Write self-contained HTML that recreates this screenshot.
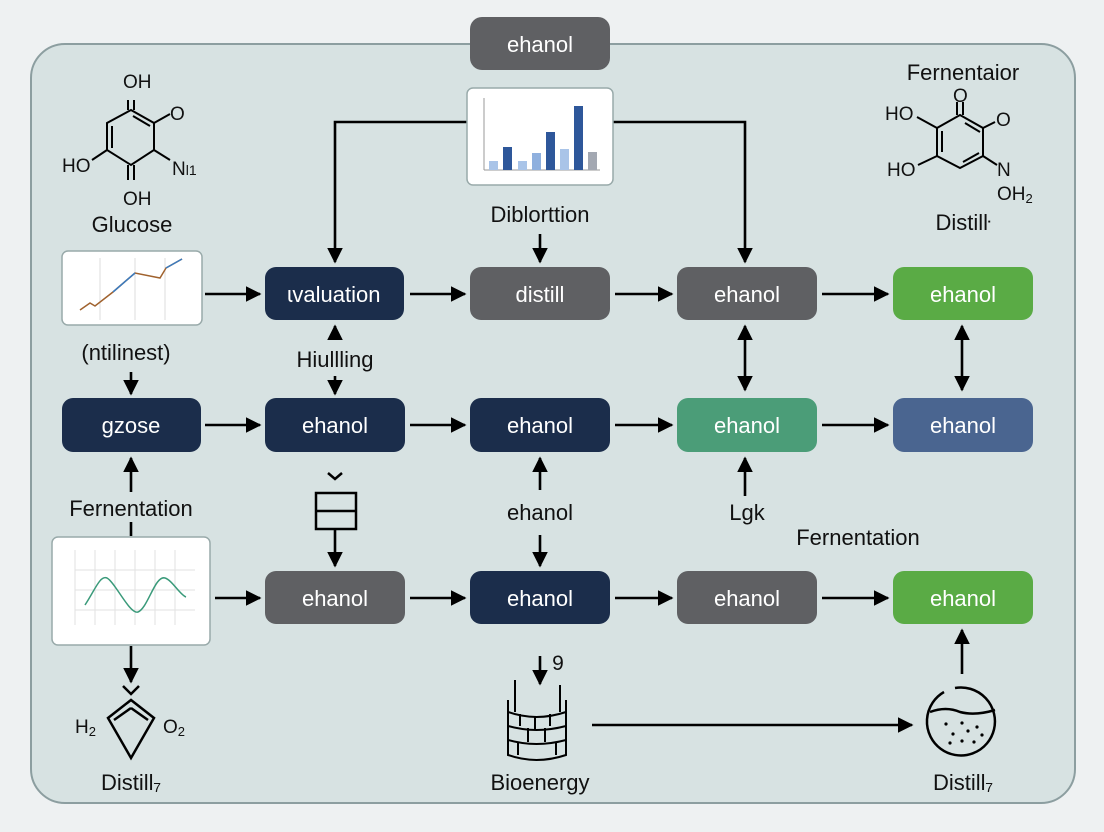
<!DOCTYPE html>
<html><head><meta charset="utf-8"><style>
html,body{margin:0;padding:0;background:#eef1f2;}
svg{display:block;font-family:"Liberation Sans",sans-serif;}
</style></head><body>
<svg width="1104" height="832" viewBox="0 0 1104 832" xmlns="http://www.w3.org/2000/svg">
<defs>
<marker id="a" viewBox="0 0 10 10" refX="9" refY="5" markerWidth="6" markerHeight="6" orient="auto-start-reverse"><path d="M0,0 L10,5 L0,10 z" fill="#000"/></marker>
</defs>
<rect x="0" y="0" width="1104" height="832" fill="#eef1f2"/>
<rect x="31" y="44" width="1044" height="759" rx="34" fill="#d7e2e2" stroke="#8c9ea0" stroke-width="2"/>
<rect x="470" y="17" width="140" height="53" rx="12" fill="#5f6063"/>
<text x="540" y="52" fill="#fff" font-size="22" text-anchor="middle">ehanol</text>

<g stroke="#000" stroke-width="2.6" fill="none">
<path d="M467 122 H335 V262" marker-end="url(#a)"/>
<path d="M613 122 H745 V262" marker-end="url(#a)"/>
<path d="M540 234 V262" marker-end="url(#a)"/>
<path d="M205 294 H260" marker-end="url(#a)"/>
<path d="M410 294 H465" marker-end="url(#a)"/>
<path d="M615 294 H672" marker-end="url(#a)"/>
<path d="M822 294 H888" marker-end="url(#a)"/>
<path d="M205 425 H260" marker-end="url(#a)"/>
<path d="M410 425 H465" marker-end="url(#a)"/>
<path d="M615 425 H672" marker-end="url(#a)"/>
<path d="M822 425 H888" marker-end="url(#a)"/>
<path d="M215 598 H260" marker-end="url(#a)"/>
<path d="M410 598 H465" marker-end="url(#a)"/>
<path d="M615 598 H672" marker-end="url(#a)"/>
<path d="M822 598 H888" marker-end="url(#a)"/>
<path d="M335 340 V326" marker-end="url(#a)"/>
<path d="M335 376 V394" marker-end="url(#a)"/>
<path d="M745 390 V326" marker-end="url(#a)" marker-start="url(#a)"/>
<path d="M962 390 V326" marker-end="url(#a)" marker-start="url(#a)"/>
<path d="M131 372 V394" marker-end="url(#a)"/>
<path d="M131 492 V458" marker-end="url(#a)"/>
<path d="M131 522 V536"/>
<path d="M131 646 V682" marker-end="url(#a)"/>
<path d="M335 530 V566" marker-end="url(#a)"/>
<path d="M540 490 V458" marker-end="url(#a)"/>
<path d="M540 535 V566" marker-end="url(#a)"/>
<path d="M745 496 V458" marker-end="url(#a)"/>
<path d="M962 674 V630" marker-end="url(#a)"/>
<path d="M540 656 V684" marker-end="url(#a)"/>
<path d="M592 725 H912" marker-end="url(#a)"/>
</g>

<g font-size="22" text-anchor="middle" fill="#fff">
<rect x="265" y="267" width="139" height="53" rx="11" fill="#1b2d4b"/><text x="334" y="302">ɩvaluation</text>
<rect x="470" y="267" width="140" height="53" rx="11" fill="#5f6063"/><text x="540" y="302">distill</text>
<rect x="677" y="267" width="140" height="53" rx="11" fill="#5f6063"/><text x="747" y="302">ehanol</text>
<rect x="893" y="267" width="140" height="53" rx="11" fill="#5aab45"/><text x="963" y="302">ehanol</text>

<rect x="62" y="398" width="139" height="54" rx="11" fill="#1b2d4b"/><text x="131" y="433">gzose</text>
<rect x="265" y="398" width="140" height="54" rx="11" fill="#1b2d4b"/><text x="335" y="433">ehanol</text>
<rect x="470" y="398" width="140" height="54" rx="11" fill="#1b2d4b"/><text x="540" y="433">ehanol</text>
<rect x="677" y="398" width="140" height="54" rx="11" fill="#4b9d78"/><text x="747" y="433">ehanol</text>
<rect x="893" y="398" width="140" height="54" rx="11" fill="#4a6590"/><text x="963" y="433">ehanol</text>

<rect x="265" y="571" width="140" height="53" rx="11" fill="#5f6063"/><text x="335" y="606">ehanol</text>
<rect x="470" y="571" width="140" height="53" rx="11" fill="#1b2d4b"/><text x="540" y="606">ehanol</text>
<rect x="677" y="571" width="140" height="53" rx="11" fill="#5f6063"/><text x="747" y="606">ehanol</text>
<rect x="893" y="571" width="140" height="53" rx="11" fill="#5aab45"/><text x="963" y="606">ehanol</text>
</g>

<g font-size="22" fill="#111" text-anchor="middle">
<text x="132" y="232">Glucose</text>
<text x="126" y="360">(ntilinest)</text>
<text x="335" y="367">Hiullling</text>
<text x="540" y="222">Diblorttion</text>
<text x="131" y="516">Fernentation</text>
<text x="540" y="520">ehanol</text>
<text x="747" y="520">Lgk</text>
<text x="858" y="545">Fernentation</text>
<text x="963" y="80">Fernentaior</text>
<text x="963" y="230">Distilŀ</text>
<text x="131" y="790">Distill₇</text>
<text x="540" y="790">Bioenergy</text>
<text x="963" y="790">Distill₇</text>
<text x="558" y="670" font-size="21">9</text>
</g>

<g stroke="#000" stroke-width="2" fill="none">
<path d="M131 110 L154 123 L154 150 L131 165 L107 150 L107 123 Z"/>
<path d="M128 100 V110 M134 100 V110"/>
<path d="M128 165 V180 M134 165 V180"/>
<path d="M133 116 L150 126 M112 126 V148"/>
<path d="M154 123 L170 114 M154 150 L170 160 M107 150 L92 160"/>
</g>
<g font-size="19" fill="#111">
<text x="123" y="88">OH</text><text x="170" y="120">O</text>
<text x="62" y="172">HO</text><text x="172" y="175">N<tspan font-size="14">l1</tspan></text>
<text x="123" y="205">OH</text>
</g>

<g stroke="#000" stroke-width="2" fill="none">
<path d="M960 115 L983 128 L983 156 L960 168 L937 156 L937 128 Z"/>
<path d="M957 102 V115 M963 102 V115 M965 123 L980 132 M942 131 V152 M963 162 L979 153"/>
<path d="M937 128 L917 117 M937 156 L918 165 M983 128 L995 122 M983 156 L997 165"/>
</g>
<g font-size="19" fill="#111">
<text x="953" y="102">O</text><text x="885" y="120">HO</text><text x="996" y="126">O</text>
<text x="887" y="176">HO</text><text x="997" y="176">N</text><text x="997" y="200">OH<tspan font-size="13" dy="3">2</tspan></text>
</g>

<rect x="467" y="88" width="146" height="97" rx="6" fill="#fff" stroke="#9aa" stroke-width="1.5"/>
<line x1="484" y1="98" x2="484" y2="170" stroke="#999"/><line x1="484" y1="170" x2="600" y2="170" stroke="#999"/>
<g>
<rect x="489" y="161" width="9" height="9" fill="#a9c4e8"/>
<rect x="503" y="147" width="9" height="23" fill="#2e579a"/>
<rect x="518" y="161" width="9" height="9" fill="#a9c4e8"/>
<rect x="532" y="153" width="9" height="17" fill="#8fb0de"/>
<rect x="546" y="132" width="9" height="38" fill="#2e579a"/>
<rect x="560" y="149" width="9" height="21" fill="#a9c4e8"/>
<rect x="574" y="106" width="9" height="64" fill="#2e579a"/>
<rect x="588" y="152" width="9" height="18" fill="#a3a8b2"/>
</g>

<rect x="62" y="251" width="140" height="74" rx="6" fill="#fff" stroke="#9aa" stroke-width="1.5"/>
<g stroke="#ddd"><line x1="100" y1="258" x2="100" y2="320"/><line x1="135" y1="258" x2="135" y2="320"/><line x1="165" y1="258" x2="165" y2="320"/></g>
<polyline points="80,310 90,303 95,306 113,292 135,273 160,278 166,268 182,259" fill="none" stroke="#a0622e" stroke-width="1.5"/>
<polyline points="113,292 135,273" stroke="#3b7bbf" stroke-width="1.5" fill="none"/>
<polyline points="166,268 182,259" stroke="#3b7bbf" stroke-width="1.5" fill="none"/>

<rect x="52" y="537" width="158" height="108" rx="6" fill="#fff" stroke="#9aa" stroke-width="1.5"/>
<g stroke="#e2e2e2"><line x1="75" y1="550" x2="75" y2="625"/><line x1="95" y1="550" x2="95" y2="625"/><line x1="115" y1="550" x2="115" y2="625"/><line x1="135" y1="550" x2="135" y2="625"/><line x1="155" y1="550" x2="155" y2="625"/><line x1="175" y1="550" x2="175" y2="625"/><line x1="75" y1="570" x2="195" y2="570"/><line x1="75" y1="590" x2="195" y2="590"/><line x1="75" y1="610" x2="195" y2="610"/></g>
<path d="M85 605 C95 590 100 575 107 578 C115 582 130 615 138 612 C148 608 155 575 165 578 C172 580 180 595 186 597" fill="none" stroke="#3a9a7a" stroke-width="1.5"/>

<g stroke="#000" stroke-width="2.5" fill="none">
<path d="M123 686 L131 694 L139 686"/>
<path d="M131 700 L108 718 L131 758 L154 718 Z"/>
<path d="M131 708 L114 720 M131 708 L148 720"/>
</g>
<text x="75" y="733" font-size="19" fill="#111">H<tspan font-size="13" dy="3">2</tspan></text>
<text x="163" y="733" font-size="19" fill="#111">O<tspan font-size="13" dy="3">2</tspan></text>

<g stroke="#000" stroke-width="2.5" fill="none">
<path d="M328 473 L335 479 L342 473"/>
<rect x="316" y="493" width="40" height="36"/>
<line x1="316" y1="511" x2="356" y2="511"/>
</g>

<g stroke="#000" stroke-width="2" fill="none">
<path d="M508 700 V755 Q536 765 566 755 V700"/>
<path d="M508 712 Q536 722 566 712 M508 726 Q536 734 566 726 M508 740 Q536 748 566 740"/>
<path d="M515 680 V712 M560 685 V712 M520 714 V726 M535 716 V730 M550 714 V726 M528 728 V742 M545 728 V742 M518 742 V755 M556 742 V755"/>
</g>

<g stroke="#000" stroke-width="2.5" fill="none">
<path d="M944 692 A34 34 0 1 0 955 688"/>
<path d="M930 712 Q946 706 960 712 Q975 716 995 710"/>
</g>
<g fill="#000"><circle cx="946" cy="724" r="1.6"/><circle cx="962" cy="723" r="1.6"/><circle cx="977" cy="727" r="1.6"/><circle cx="953" cy="734" r="1.6"/><circle cx="968" cy="731" r="1.6"/><circle cx="982" cy="735" r="1.6"/><circle cx="950" cy="743" r="1.6"/><circle cx="962" cy="741" r="1.6"/><circle cx="974" cy="742" r="1.6"/></g>
</svg>
</body></html>
